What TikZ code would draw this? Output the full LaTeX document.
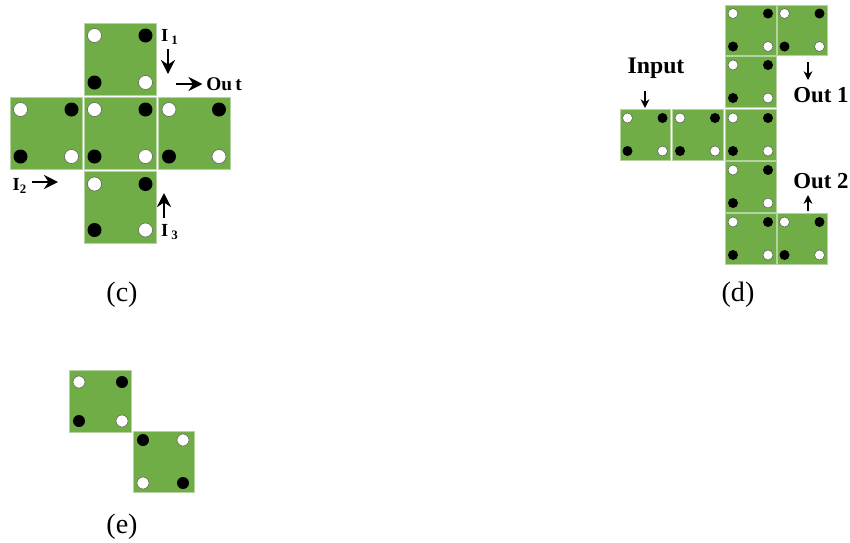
\documentclass[tikz,border=0pt]{standalone}
\usepackage{fontspec}
\setmainfont{Liberation Serif}
\usetikzlibrary{arrows.meta}
\definecolor{tilegreen}{HTML}{70AD47}
\definecolor{tileedge}{HTML}{B5D3A0}
\tikzset{
	tile/.style={draw=tileedge, line width=0.5pt, fill=tilegreen, inner sep=0pt},
	holew/.style={circle, draw=black!65, line width=0.3pt, fill=white, inner sep=0pt},
	holeb/.style={circle, fill=black, inner sep=0pt},
	flow/.style={-{Stealth[length=#1, width=#1]}, line width=1pt},
	flow/.default=8pt,
	tag/.style={font=\bfseries, inner sep=0pt},
	caption/.style={font=\fontsize{16}{18}\selectfont, inner sep=0pt}
}
\begin{document}
\begin{tikzpicture}[x=0.02cm, y=-0.02cm]
	\useasboundingbox (0,0) rectangle (850,542);
	% panel c
	\foreach \name/\cx/\cy/\ox/\oy in {ctop/120/59/25.5/23.5, cleft/46/133/25.5/23.5, cmid/120/133/25.5/23.5, cright/194/133/25/23.5, cbot/120/207/25.5/23} {
		\node[tile, minimum width=72*0.02cm, minimum height=72*0.02cm] (\name) at (\cx,\cy) {};
		\node[holew, minimum size=14*0.02cm] (\name-a) at (\cx-\ox,\cy-\oy) {};
		\node[holeb, minimum size=14*0.02cm] (\name-b) at (\cx+\ox,\cy-\oy) {};
		\node[holeb, minimum size=14*0.02cm] (\name-c) at (\cx-\ox,\cy+\oy) {};
		\node[holew, minimum size=14*0.02cm] (\name-d) at (\cx+\ox,\cy+\oy) {};
	}
	\node[tag, font=\bfseries\fontsize{10.5}{12}\selectfont] (i1) at (170,37) {I\,$_{\mathbf 1}$};
	\node[tag, font=\bfseries\fontsize{10.5}{12}\selectfont] (i2) at (20,186) {I$_{\mathbf 2}$};
	\node[tag, font=\bfseries\fontsize{10.5}{12}\selectfont] (i3) at (170,232) {I\,$_{\mathbf 3}$};
	\node[tag, font=\bfseries\fontsize{11}{13}\selectfont, anchor=west] (cout) at (206,84) {Ou\,t};
	\coordinate (i1s) at (168,49);
	\coordinate (i1e) at (168,74);
	\coordinate (os) at (176,84);
	\coordinate (i2s) at (32,182);
	\coordinate (i2e) at (58,182);
	\coordinate (i3s) at (164,218);
	\coordinate (i3e) at (164,193);
	\draw[flow] (i1s) -- (i1e);
	\draw[flow, shorten >=2pt] (os) -- (cout.west);
	\draw[flow] (i2s) -- (i2e);
	\draw[flow] (i3s) -- (i3e);
	\node[caption] (clabel) at (122,295) {(c)};
	% panel d
	\foreach \name/\cx/\cy/\w/\h in {done/750.5/30/51/50, dtwo/750.5/81.5/51/51, dthree/750.5/134.5/51/51, dfour/750.5/186.5/51/51, dfive/750.5/238.5/51/51, dsix/802/30/50/50, dseven/645/134.5/50/51, deight/697.5/134.5/51/51, dnine/802/238.5/50/51} {
		\node[tile, minimum width=\w*0.02cm, minimum height=\h*0.02cm] (\name) at (\cx,\cy) {};
		\node[holew, minimum size=10*0.02cm] (\name-a) at (\cx-17.5,\cy-16.5) {};
		\node[holeb, minimum size=10*0.02cm] (\name-b) at (\cx+17.5,\cy-16.5) {};
		\node[holeb, minimum size=10*0.02cm] (\name-c) at (\cx-17.5,\cy+16.5) {};
		\node[holew, minimum size=10*0.02cm] (\name-d) at (\cx+17.5,\cy+16.5) {};
	}
	\node[tag, font=\bfseries\fontsize{13.5}{15}\selectfont] (input) at (656,68) {Input};
	\node[tag, font=\bfseries\fontsize{13}{15}\selectfont] (outa) at (821,95) {Out 1};
	\node[tag, font=\bfseries\fontsize{13}{15}\selectfont] (outb) at (821,181) {Out 2};
	\coordinate (ins) at (645,91);
	\coordinate (ine) at (645,108);
	\coordinate (oas) at (808,62);
	\coordinate (oae) at (808,80);
	\coordinate (obs) at (808,211);
	\coordinate (obe) at (808,195);
	\draw[flow=5pt, line width=0.8pt] (ins) -- (ine);
	\draw[flow=5pt, line width=0.8pt] (oas) -- (oae);
	\draw[flow=5pt, line width=0.8pt] (obs) -- (obe);
	\node[caption] (dlabel) at (738,295) {(d)};
	% panel e
	\node[tile, minimum width=62*0.02cm, minimum height=62*0.02cm] (eone) at (100,401) {};
	\node[holew, minimum size=12*0.02cm] (eone-a) at (79,382) {};
	\node[holeb, minimum size=12*0.02cm] (eone-b) at (122,382) {};
	\node[holeb, minimum size=12*0.02cm] (eone-c) at (79,421) {};
	\node[holew, minimum size=12*0.02cm] (eone-d) at (122,421) {};
	\node[tile, minimum width=61*0.02cm, minimum height=61*0.02cm] (etwo) at (163.5,461.5) {};
	\node[holeb, minimum size=12*0.02cm] (etwo-a) at (143,440) {};
	\node[holew, minimum size=12*0.02cm] (etwo-b) at (183,440) {};
	\node[holew, minimum size=12*0.02cm] (etwo-c) at (143,483) {};
	\node[holeb, minimum size=12*0.02cm] (etwo-d) at (183,483) {};
	\node[caption] (elabel) at (122,527) {(e)};
\end{tikzpicture}
\end{document}
